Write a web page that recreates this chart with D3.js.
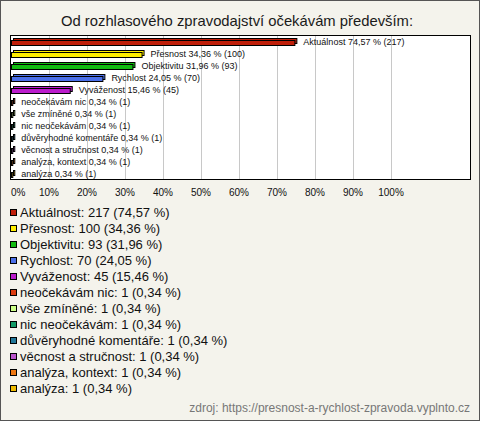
<!DOCTYPE html>
<html><head><meta charset="utf-8">
<script src="https://cdn.jsdelivr.net/npm/d3@7"></script>
<style>html,body{margin:0;padding:0;background:#fff}svg{display:block}</style>
</head><body>
<script>
const categories = ["Aktuálnost","Přesnost","Objektivitu","Rychlost","Vyváženost","neočekávám nic","vše zmíněné","nic neočekávám","důvěryhodné komentáře","věcnost a stručnost","analýza, kontext","analýza"];
const counts = [217,100,93,70,45,1,1,1,1,1,1,1];
const percents = [74.57,34.36,31.96,24.05,15.46,0.34,0.34,0.34,0.34,0.34,0.34,0.34];
const colors = ["#c01f0a","#ffee00","#11bb11","#4a6fe8","#bb1ccc","#dd3d11","#ccff88","#119966","#227799","#bb55cc","#ee7711","#eebb00"];
const tickValues = [0,10,20,30,40,50,60,70,80,90,100];
const title = "Od rozhlasového zpravodajství očekávám především:";
const source = "zdroj: https://presnost-a-rychlost-zpravoda.vyplnto.cz";

const W = 480, H = 421;
const fmt = v => v.toFixed(2).replace(".", ",");
const svg = d3.select("body").append("svg").attr("width", W).attr("height", H);
svg.append("rect").attr("x",0.5).attr("y",0.5).attr("width",W-1).attr("height",H-1)
  .attr("fill","#f4f3ec").attr("stroke","#555");

svg.append("text").attr("x",237).attr("y",26).attr("text-anchor","middle")
  .attr("font-family","Liberation Sans, Arial, sans-serif").attr("font-size",14.8).attr("fill","#1a1a1a").text(title);

const plot = {x0:10, y0:35, x1:470, y1:179};
const x = d3.scaleLinear().domain([0,100]).range([11,391]);
const y = d3.scaleBand().domain(categories).range([plot.y0, plot.y1]);

svg.append("rect").attr("x",plot.x0+0.5).attr("y",plot.y0+0.5)
  .attr("width",plot.x1-plot.x0).attr("height",plot.y1-plot.y0)
  .attr("fill","#fff").attr("stroke","#000");

svg.append("g").selectAll("line").data(tickValues.filter(t=>t>0)).join("line")
  .attr("x1",d=>Math.round(x(d))+0.5).attr("x2",d=>Math.round(x(d))+0.5)
  .attr("y1",plot.y0+1).attr("y2",plot.y1)
  .attr("stroke","#c8c8c8");

const rows = svg.append("g").selectAll("g").data(categories).join("g")
  .attr("transform", d=>`translate(0,${y(d)})`);
// back (3D) face
rows.append("rect").attr("x",x(0)+2.5).attr("y",3.5)
  .attr("width",(d,i)=>Math.max(0.5, x(percents[i])-x(0))).attr("height",5)
  .attr("fill",(d,i)=>colors[i]).attr("stroke","#000");
// front face
rows.append("rect").attr("x",x(0)+0.5).attr("y",5.5)
  .attr("width",(d,i)=>Math.max(0.5, x(percents[i])-x(0))).attr("height",5)
  .attr("fill",(d,i)=>colors[i]).attr("stroke","#000");
rows.append("text").attr("x",(d,i)=>x(percents[i])+9).attr("y",9.5)
  .attr("font-family","Liberation Sans, Arial, sans-serif").attr("font-size",9).attr("fill","#111")
  .text((d,i)=>`${d} ${fmt(percents[i])} % (${counts[i]})`);

svg.append("g").selectAll("text").data(tickValues).join("text")
  .attr("x",d=>d===0 ? x(0) : x(d)).attr("y",196)
  .attr("text-anchor",d=>d===0?"start":"middle")
  .attr("font-family","Liberation Sans, Arial, sans-serif").attr("font-size",10).attr("fill","#111")
  .text(d=>d+"%");

const leg = svg.append("g").selectAll("g").data(categories).join("g")
  .attr("transform",(d,i)=>`translate(0,${212+16*i})`);
leg.append("rect").attr("x",10.5).attr("y",-2.5).attr("width",6).attr("height",6)
  .attr("fill",(d,i)=>colors[i]).attr("stroke","#000");
leg.append("text").attr("x",20).attr("y",5)
  .attr("font-family","Liberation Sans, Arial, sans-serif").attr("font-size",13).attr("fill","#111")
  .text((d,i)=>`${d}: ${counts[i]} (${fmt(percents[i])} %)`);

svg.append("text").attr("x",470).attr("y",412).attr("text-anchor","end")
  .attr("font-family","Liberation Sans, Arial, sans-serif").attr("font-size",12).attr("fill","#777")
  .text(source);
</script>
</body></html>
